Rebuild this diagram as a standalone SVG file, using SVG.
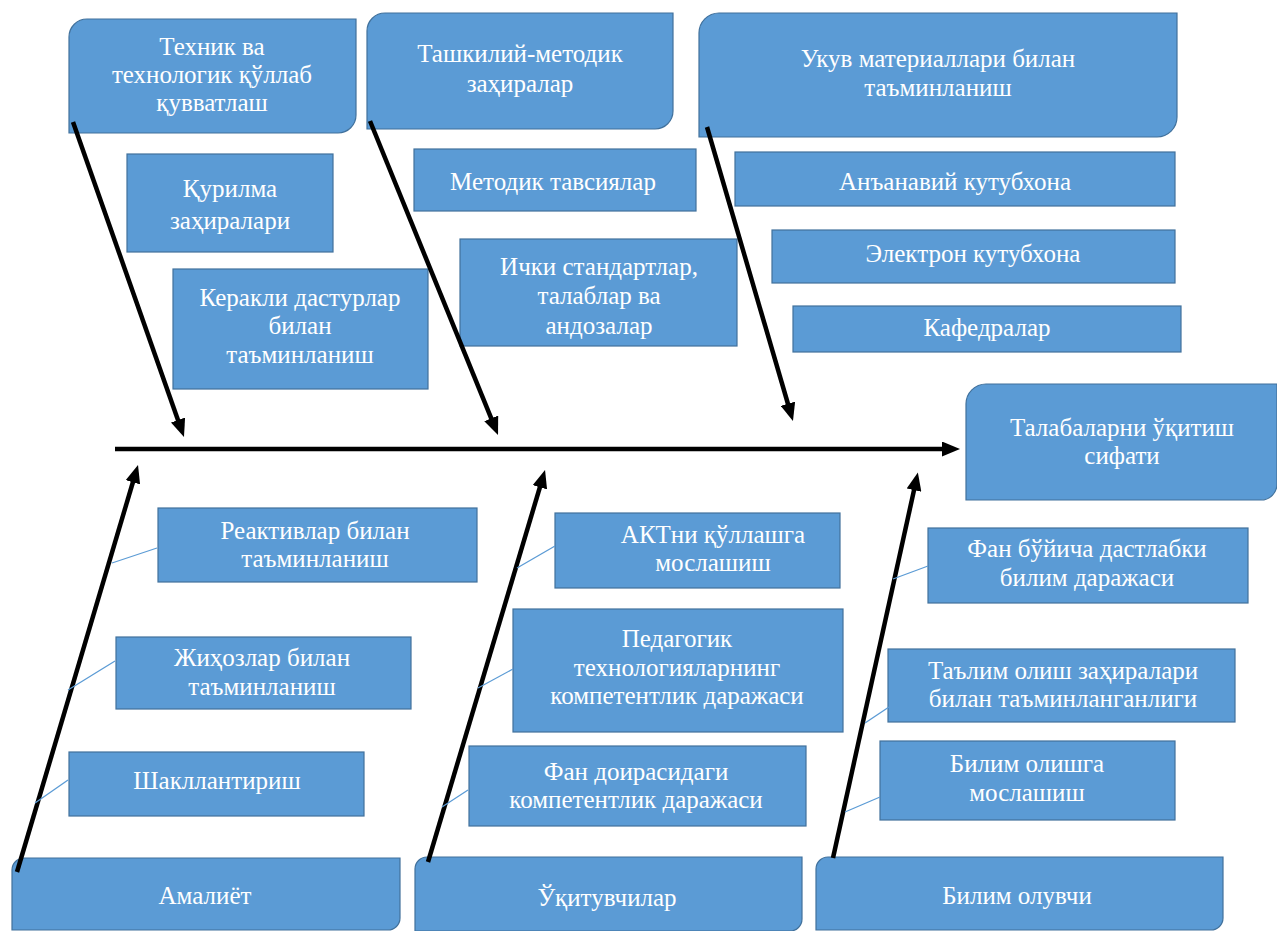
<svg xmlns="http://www.w3.org/2000/svg" width="1277" height="931" viewBox="0 0 1277 931">
<style>
.box{fill:#5b9bd5;stroke:#41719c;stroke-width:1.2}
.t{font-family:"Liberation Serif","Times New Roman",serif;font-size:25px;fill:#ffffff;text-anchor:middle;dominant-baseline:central}
.arr{stroke:#000;stroke-width:4.5;fill:none;marker-end:url(#ah)}
.thin{stroke:#5b9bd5;stroke-width:1.3;fill:none}
</style>
<defs>
<marker id="ah" markerUnits="userSpaceOnUse" markerWidth="18" markerHeight="15" viewBox="0 0 18 15" refX="6" refY="7.5" orient="auto">
<path d="M0,0 L18,7.5 L0,15 Z" fill="#000"/>
</marker>
</defs>
<rect width="1277" height="931" fill="#fff"/>

<g id="n-tech">
<path class="box" d="M87,19 H356 V115 A18 18 0 0 1 338,133 H69 V37 A18 18 0 0 1 87,19 Z"/>
<text class="t" x="212" y="46">Техник ва</text>
<text class="t" x="212" y="74">технологик қўллаб</text>
<text class="t" x="212" y="102">қувватлаш</text>
</g>
<g id="n-qurilma">
<rect class="box" x="127" y="154" width="206" height="98"/>
<text class="t" x="230" y="188">Қурилма</text>
<text class="t" x="230" y="220">заҳиралари</text>
</g>
<g id="n-kerakli">
<rect class="box" x="173" y="269" width="255" height="120"/>
<text class="t" x="300" y="297">Керакли дастурлар</text>
<text class="t" x="300" y="325">билан</text>
<text class="t" x="300" y="354">таъминланиш</text>
</g>

<g id="n-tashkiliy">
<path class="box" d="M385,13 H673 V111 A18 18 0 0 1 655,129 H367 V31 A18 18 0 0 1 385,13 Z"/>
<text class="t" x="520" y="53">Ташкилий-методик</text>
<text class="t" x="520" y="83">заҳиралар</text>
</g>
<g id="n-metodik">
<rect class="box" x="414" y="149" width="282" height="62"/>
<text class="t" x="553" y="181">Методик тавсиялар</text>
</g>
<g id="n-ichki">
<rect class="box" x="460" y="239" width="277" height="107"/>
<text class="t" x="599" y="266">Ички стандартлар,</text>
<text class="t" x="599" y="295">талаблар ва</text>
<text class="t" x="599" y="325">андозалар</text>
</g>

<g id="n-ukuv">
<path class="box" d="M719,13 H1177 V117 A20 20 0 0 1 1157,137 H699 V33 A20 20 0 0 1 719,13 Z"/>
<text class="t" x="938" y="58">Укув материаллари билан</text>
<text class="t" x="938" y="87">таъминланиш</text>
</g>
<g id="n-anana">
<rect class="box" x="735" y="152" width="440" height="54"/>
<text class="t" x="955" y="181">Анъанавий кутубхона</text>
</g>
<g id="n-elektron">
<rect class="box" x="772" y="230" width="403" height="53"/>
<text class="t" x="973" y="253">Электрон кутубхона</text>
</g>
<g id="n-kafedra">
<rect class="box" x="793" y="306" width="388" height="46"/>
<text class="t" x="987" y="327">Кафедралар</text>
</g>

<g id="n-effect">
<path class="box" d="M986,384 H1277 V484 A16 16 0 0 1 1261,500 H966 V404 A20 20 0 0 1 986,384 Z"/>
<text class="t" x="1122" y="427">Талабаларни ўқитиш</text>
<text class="t" x="1122" y="455">сифати</text>
</g>

<g id="n-reaktiv">
<rect class="box" x="158" y="508" width="319" height="74"/>
<text class="t" x="315" y="530">Реактивлар билан</text>
<text class="t" x="315" y="558">таъминланиш</text>
</g>
<g id="n-jihoz">
<rect class="box" x="116" y="637" width="295" height="72"/>
<text class="t" x="262" y="657">Жиҳозлар билан</text>
<text class="t" x="262" y="686">таъминланиш</text>
</g>
<g id="n-shakl">
<rect class="box" x="69" y="752" width="295" height="64"/>
<text class="t" x="217" y="780">Шакллантириш</text>
</g>
<g id="n-amaliyot">
<path class="box" d="M24,858 H400 V918 A12 12 0 0 1 388,930 H12 V870 A12 12 0 0 1 24,858 Z"/>
<text class="t" x="205" y="895">Амалиёт</text>
</g>

<g id="n-akt">
<rect class="box" x="555" y="513" width="285" height="75"/>
<text class="t" x="713" y="534">АКТни қўллашга</text>
<text class="t" x="713" y="562">мослашиш</text>
</g>
<g id="n-pedagogik">
<rect class="box" x="513" y="609" width="330" height="123"/>
<text class="t" x="677" y="638">Педагогик</text>
<text class="t" x="677" y="667">технологияларнинг</text>
<text class="t" x="677" y="695">компетентлик даражаси</text>
</g>
<g id="n-fan">
<rect class="box" x="469" y="746" width="337" height="80"/>
<text class="t" x="636" y="771">Фан доирасидаги</text>
<text class="t" x="636" y="799">компетентлик даражаси</text>
</g>
<g id="n-ukituvchi">
<path class="box" d="M427,857 H802 V919 A12 12 0 0 1 790,931 H415 V869 A12 12 0 0 1 427,857 Z"/>
<text class="t" x="607" y="897">Ўқитувчилар</text>
</g>

<g id="n-boshlang">
<rect class="box" x="928" y="528" width="320" height="75"/>
<text class="t" x="1087" y="548">Фан бўйича дастлабки</text>
<text class="t" x="1087" y="577">билим даражаси</text>
</g>
<g id="n-talim">
<rect class="box" x="888" y="649" width="347" height="73"/>
<text class="t" x="1063" y="670">Таълим олиш заҳиралари</text>
<text class="t" x="1063" y="698">билан таъминланганлиги</text>
</g>
<g id="n-moslash">
<rect class="box" x="880" y="741" width="295" height="79"/>
<text class="t" x="1027" y="763">Билим олишга</text>
<text class="t" x="1027" y="792">мослашиш</text>
</g>
<g id="n-oluvchi">
<path class="box" d="M828,857 H1223 V918 A12 12 0 0 1 1211,930 H816 V869 A12 12 0 0 1 828,857 Z"/>
<text class="t" x="1017" y="895">Билим олувчи</text>
</g>

<g id="connectors">
<line class="arr" x1="115" y1="449" x2="948" y2="449"/>
<line class="arr" x1="73" y1="122" x2="180" y2="425.7"/>
<line class="arr" x1="370" y1="121" x2="493.5" y2="423.9"/>
<line class="arr" x1="707" y1="127" x2="789.6" y2="409.5"/>
<line class="arr" x1="17" y1="872" x2="134.6" y2="476.5"/>
<line class="arr" x1="428" y1="862" x2="541.6" y2="481.5"/>
<line class="arr" x1="833" y1="858" x2="915.3" y2="484.3"/>
<line class="thin" x1="112" y1="563" x2="157" y2="548"/>
<line class="thin" x1="68" y1="690" x2="115" y2="661"/>
<line class="thin" x1="35" y1="803" x2="68" y2="780"/>
<line class="thin" x1="517" y1="568" x2="555" y2="546"/>
<line class="thin" x1="478" y1="688" x2="513" y2="669"/>
<line class="thin" x1="442" y1="807" x2="468" y2="790"/>
<line class="thin" x1="893" y1="579" x2="928" y2="566"/>
<line class="thin" x1="865" y1="723" x2="889" y2="707"/>
<line class="thin" x1="845" y1="812" x2="880" y2="797"/>
</g>
</svg>
